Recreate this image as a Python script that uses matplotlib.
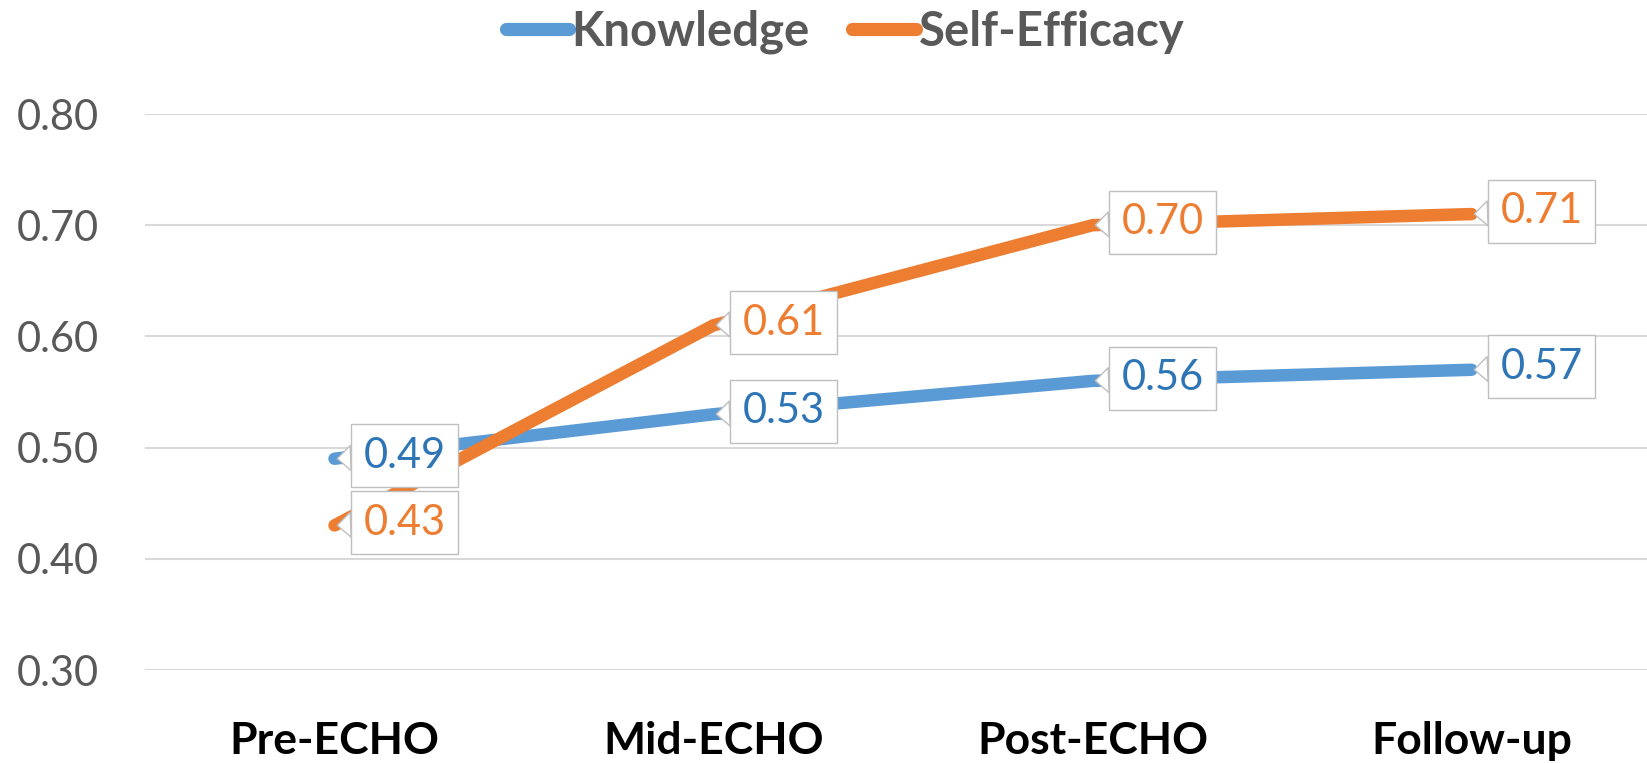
import matplotlib.pyplot as plt

stages = ["Pre-ECHO", "Mid-ECHO", "Post-ECHO", "Follow-up"]
knowledge = [0.49, 0.53, 0.56, 0.57]
self_efficacy = [0.43, 0.61, 0.70, 0.71]
yticks = [0.30, 0.40, 0.50, 0.60, 0.70, 0.80]

blue, orange = "#5B9BD5", "#ED7D31"
blue_txt = "#2E75B6"
grey = "#595959"

plt.rcParams['font.family'] = ['Lato', 'DejaVu Sans']

fig = plt.figure(figsize=(16.47, 7.63), dpi=100)
ax = fig.add_axes([145 / 1647, 1 - 670 / 763, 1516 / 1647, (670 - 114) / 763])

x = list(range(len(stages)))
ax.plot(x, knowledge, color=blue, lw=9, solid_capstyle='round', label="Knowledge", zorder=3)
ax.plot(x, self_efficacy, color=orange, lw=9, solid_capstyle='round', label="Self-Efficacy", zorder=3)

ax.set_xlim(-0.5, len(stages) - 0.5)
ax.set_ylim(0.30, 0.80)
ax.set_yticks(yticks)
ax.set_yticklabels([f"{v:.2f}" for v in yticks], fontsize=30, color=grey)
ax.set_xticks(x)
ax.set_xticklabels(stages, fontsize=32, fontweight='bold', color='black')
ax.tick_params(axis='y', length=0, pad=33)
ax.tick_params(axis='x', length=0, pad=37)
ax.grid(axis='y', color='#D9D9D9', lw=1.5)
ax.set_axisbelow(True)
for s in ax.spines.values():
    s.set_visible(False)

# callout labels
for vals, tc in [(knowledge, blue_txt), (self_efficacy, orange)]:
    for i, v in enumerate(vals):
        ax.annotate(f"{v:.2f}", xy=(i, v), xytext=(21, 2), textcoords='offset points',
                    ha='left', va='center', fontsize=30, color=tc, zorder=5,
                    bbox=dict(boxstyle='square,pad=0.3', fc='white', ec='#BFBFBF', lw=1),
                    arrowprops=dict(arrowstyle='wedge,tail_width=0.6,shrink_factor=0.5',
                                    fc='white', ec='#BFBFBF', lw=1, shrinkA=0, shrinkB=2))

leg = fig.legend(loc='center', bbox_to_anchor=(0.513, 0.958), ncol=2, frameon=False,
                 fontsize=34, handlelength=1.35, handletextpad=0.05, columnspacing=0.9)
for h in leg.get_lines():
    h.set_linewidth(9.5)
    h.set_solid_capstyle('round')
for t in leg.get_texts():
    t.set_color(grey)
    t.set_fontweight('bold')

fig.savefig("out.png", dpi=100)
